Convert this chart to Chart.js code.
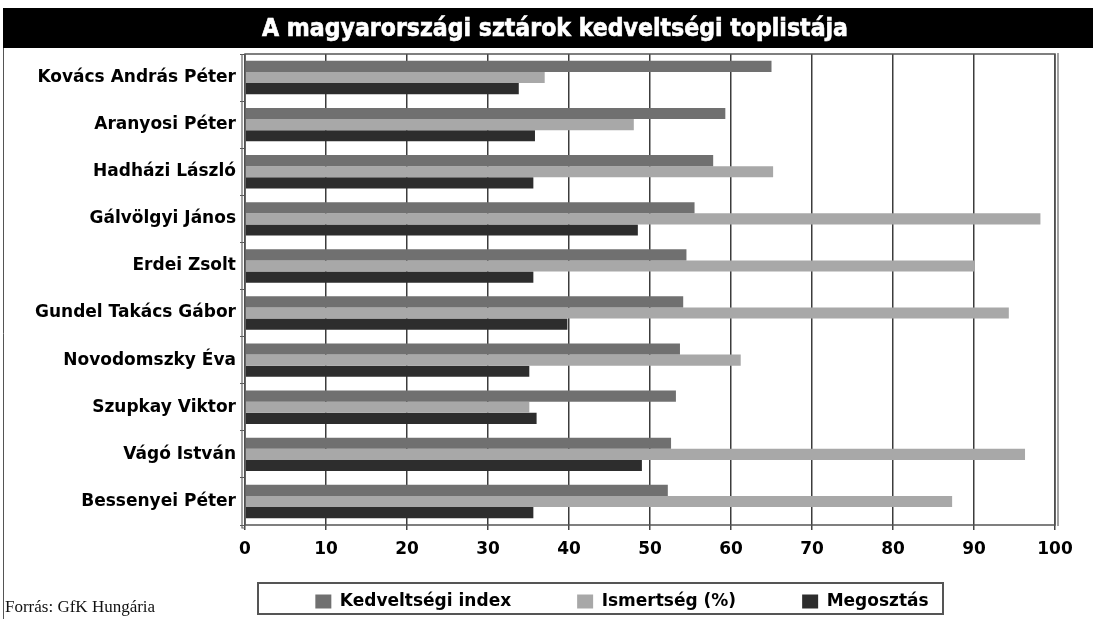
<!DOCTYPE html>
<html>
<head>
<meta charset="utf-8">
<script src="https://cdn.jsdelivr.net/npm/chart.js@4/dist/chart.umd.min.js"></script>
<style>
    html, body { margin: 0; padding: 0; background: #fff; }
    #wrap { width: 1093px; height: 619px; position: relative; }
</style>
</head>
<body>
<div id="wrap"><canvas id="toplistaChart" width="1093" height="619"></canvas></div>
<script>
// --- Adatok ---
const cimek = [
    'Kovács András Péter', 'Aranyosi Péter', 'Hadházi László', 'Gálvölgyi János', 'Erdei Zsolt',
    'Gundel Takács Gábor', 'Novodomszky Éva', 'Szupkay Viktor', 'Vágó István', 'Bessenyei Péter'
];
const kedveltsegiIndex = [65, 59.3, 57.8, 55.5, 54.5, 54.1, 53.7, 53.2, 52.6, 52.2];
const ismertseg = [37, 48, 65.2, 98.2, 90.1, 94.3, 61.2, 35.1, 96.3, 87.3];
const megosztas = [33.8, 35.8, 35.6, 48.5, 35.6, 39.8, 35.1, 36, 49, 35.6];
const sorozatNevek = ['Kedveltségi index', 'Ismertség (%)', 'Megosztás'];
const xTickek = [0, 10, 20, 30, 40, 50, 60, 70, 80, 90, 100];

const cim = 'A magyarországi sztárok kedveltségi toplistája';
const forras = 'Forrás: GfK Hungária';
const betu = '"DejaVu Sans", Verdana, sans-serif';

// Díszítések: fekete címsáv, keret, forrás, jelmagyarázat kerete
const dekoracio = {
    id: 'dekoracio',
    beforeDraw(chart) {
        const ctx = chart.ctx;
        ctx.save();
        ctx.fillStyle = '#fff';
        ctx.fillRect(0, 0, chart.width, chart.height);

        // címsáv
        ctx.fillStyle = '#000';
        ctx.fillRect(3, 8, chart.width - 3, 40);
        ctx.font = 'bold 24px "DejaVu Sans Condensed", "DejaVu Sans", sans-serif';
        const w = ctx.measureText(cim).width;
        ctx.translate(262, 35.5);
        ctx.scale(586 / w, 1);
        ctx.fillStyle = '#fff';
        ctx.strokeStyle = '#fff';
        ctx.lineWidth = 0.6;
        ctx.textBaseline = 'alphabetic';
        ctx.fillText(cim, 0, 0);
        ctx.strokeText(cim, 0, 0);
        ctx.restore();

        // bal oldali vonal
        ctx.save();
        ctx.strokeStyle = '#555';
        ctx.lineWidth = 1;
        ctx.beginPath();
        ctx.moveTo(3.5, 48);
        ctx.lineTo(3.5, chart.height);
        ctx.stroke();

        // forrás
        ctx.fillStyle = '#111';
        ctx.font = '17px "Liberation Serif", "Times New Roman", serif';
        ctx.textBaseline = 'alphabetic';
        ctx.fillText(forras, 5, 612);
        ctx.restore();
    },
    afterLayout(chart) {
        // jelmagyarázat elhelyezése a kerethez
        const lg = chart.legend;
        lg.left = 622 - 420;
        lg.right = 622 + 420;
        lg.top = 527;
        lg.bottom = chart.height;
    },
    afterDraw(chart) {
        const ctx = chart.ctx;
        const a = chart.chartArea;
        ctx.save();
        ctx.strokeStyle = '#555';
        ctx.lineWidth = 1.5;
        ctx.strokeRect(a.left, a.top, a.right - a.left, a.bottom - a.top);
        ctx.lineWidth = 1.2;
        ctx.strokeStyle = '#666';
        ctx.beginPath();
        ctx.moveTo(a.left - 3, a.top);
        ctx.lineTo(a.left - 3, a.bottom + 3);
        ctx.lineTo(a.left, a.bottom + 3);
        ctx.moveTo(a.right + 3, a.top - 1);
        ctx.lineTo(a.right + 3, a.bottom + 1);
        ctx.stroke();

        // jelmagyarázat keret
        ctx.strokeStyle = '#555';
        ctx.lineWidth = 2;
        ctx.strokeRect(258, 583, 685, 31);
        ctx.restore();
    }
};

function renderToplista() {
    const ctx = document.getElementById('toplistaChart').getContext('2d');
    new Chart(ctx, {
        type: 'bar',
        data: {
            labels: cimek,
            datasets: [
                { label: sorozatNevek[0], data: kedveltsegiIndex, backgroundColor: '#707070' },
                { label: sorozatNevek[1], data: ismertseg, backgroundColor: '#a8a8a8' },
                { label: sorozatNevek[2], data: megosztas, backgroundColor: '#2d2d2d' }
            ]
        },
        options: {
            indexAxis: 'y',
            responsive: false,
            animation: false,
            devicePixelRatio: 1,
            categoryPercentage: 0.71,
            barPercentage: 1,
            borderWidth: 0,
            layout: { padding: { top: 54, right: 38, bottom: 14, left: 0 } },
            scales: {
                x: {
                    min: 0,
                    max: 100,
                    afterFit: s => { s.height = 40; },
                    afterBuildTicks: s => { s.ticks = xTickek.map(v => ({ value: v })); },
                    grid: { color: '#3c3c3c', lineWidth: 1.5, tickLength: 5, tickColor: '#444' },
                    border: { display: false },
                    ticks: {
                        font: { family: betu, size: 17, weight: 'bold' },
                        color: '#000',
                        padding: 9,
                        maxRotation: 0
                    }
                },
                y: {
                    afterFit: s => { s.width = 245; },
                    grid: { display: true, drawOnChartArea: false, tickLength: 5, color: '#555', offset: true },
                    border: { display: false },
                    ticks: {
                        font: { family: betu, size: 17, weight: 'bold' },
                        color: '#000',
                        padding: 4,
                        autoSkip: false
                    }
                }
            },
            plugins: {
                legend: {
                    position: 'bottom',
                    maxHeight: 40,
                    labels: {
                        font: { family: betu, size: 17, weight: 'bold' },
                        color: '#000',
                        boxWidth: 16,
                        boxHeight: 14,
                        padding: 66
                    }
                },
                tooltip: { enabled: false }
            }
        },
        plugins: [dekoracio]
    });
}

document.addEventListener('DOMContentLoaded', renderToplista);
</script>
</body>
</html>
